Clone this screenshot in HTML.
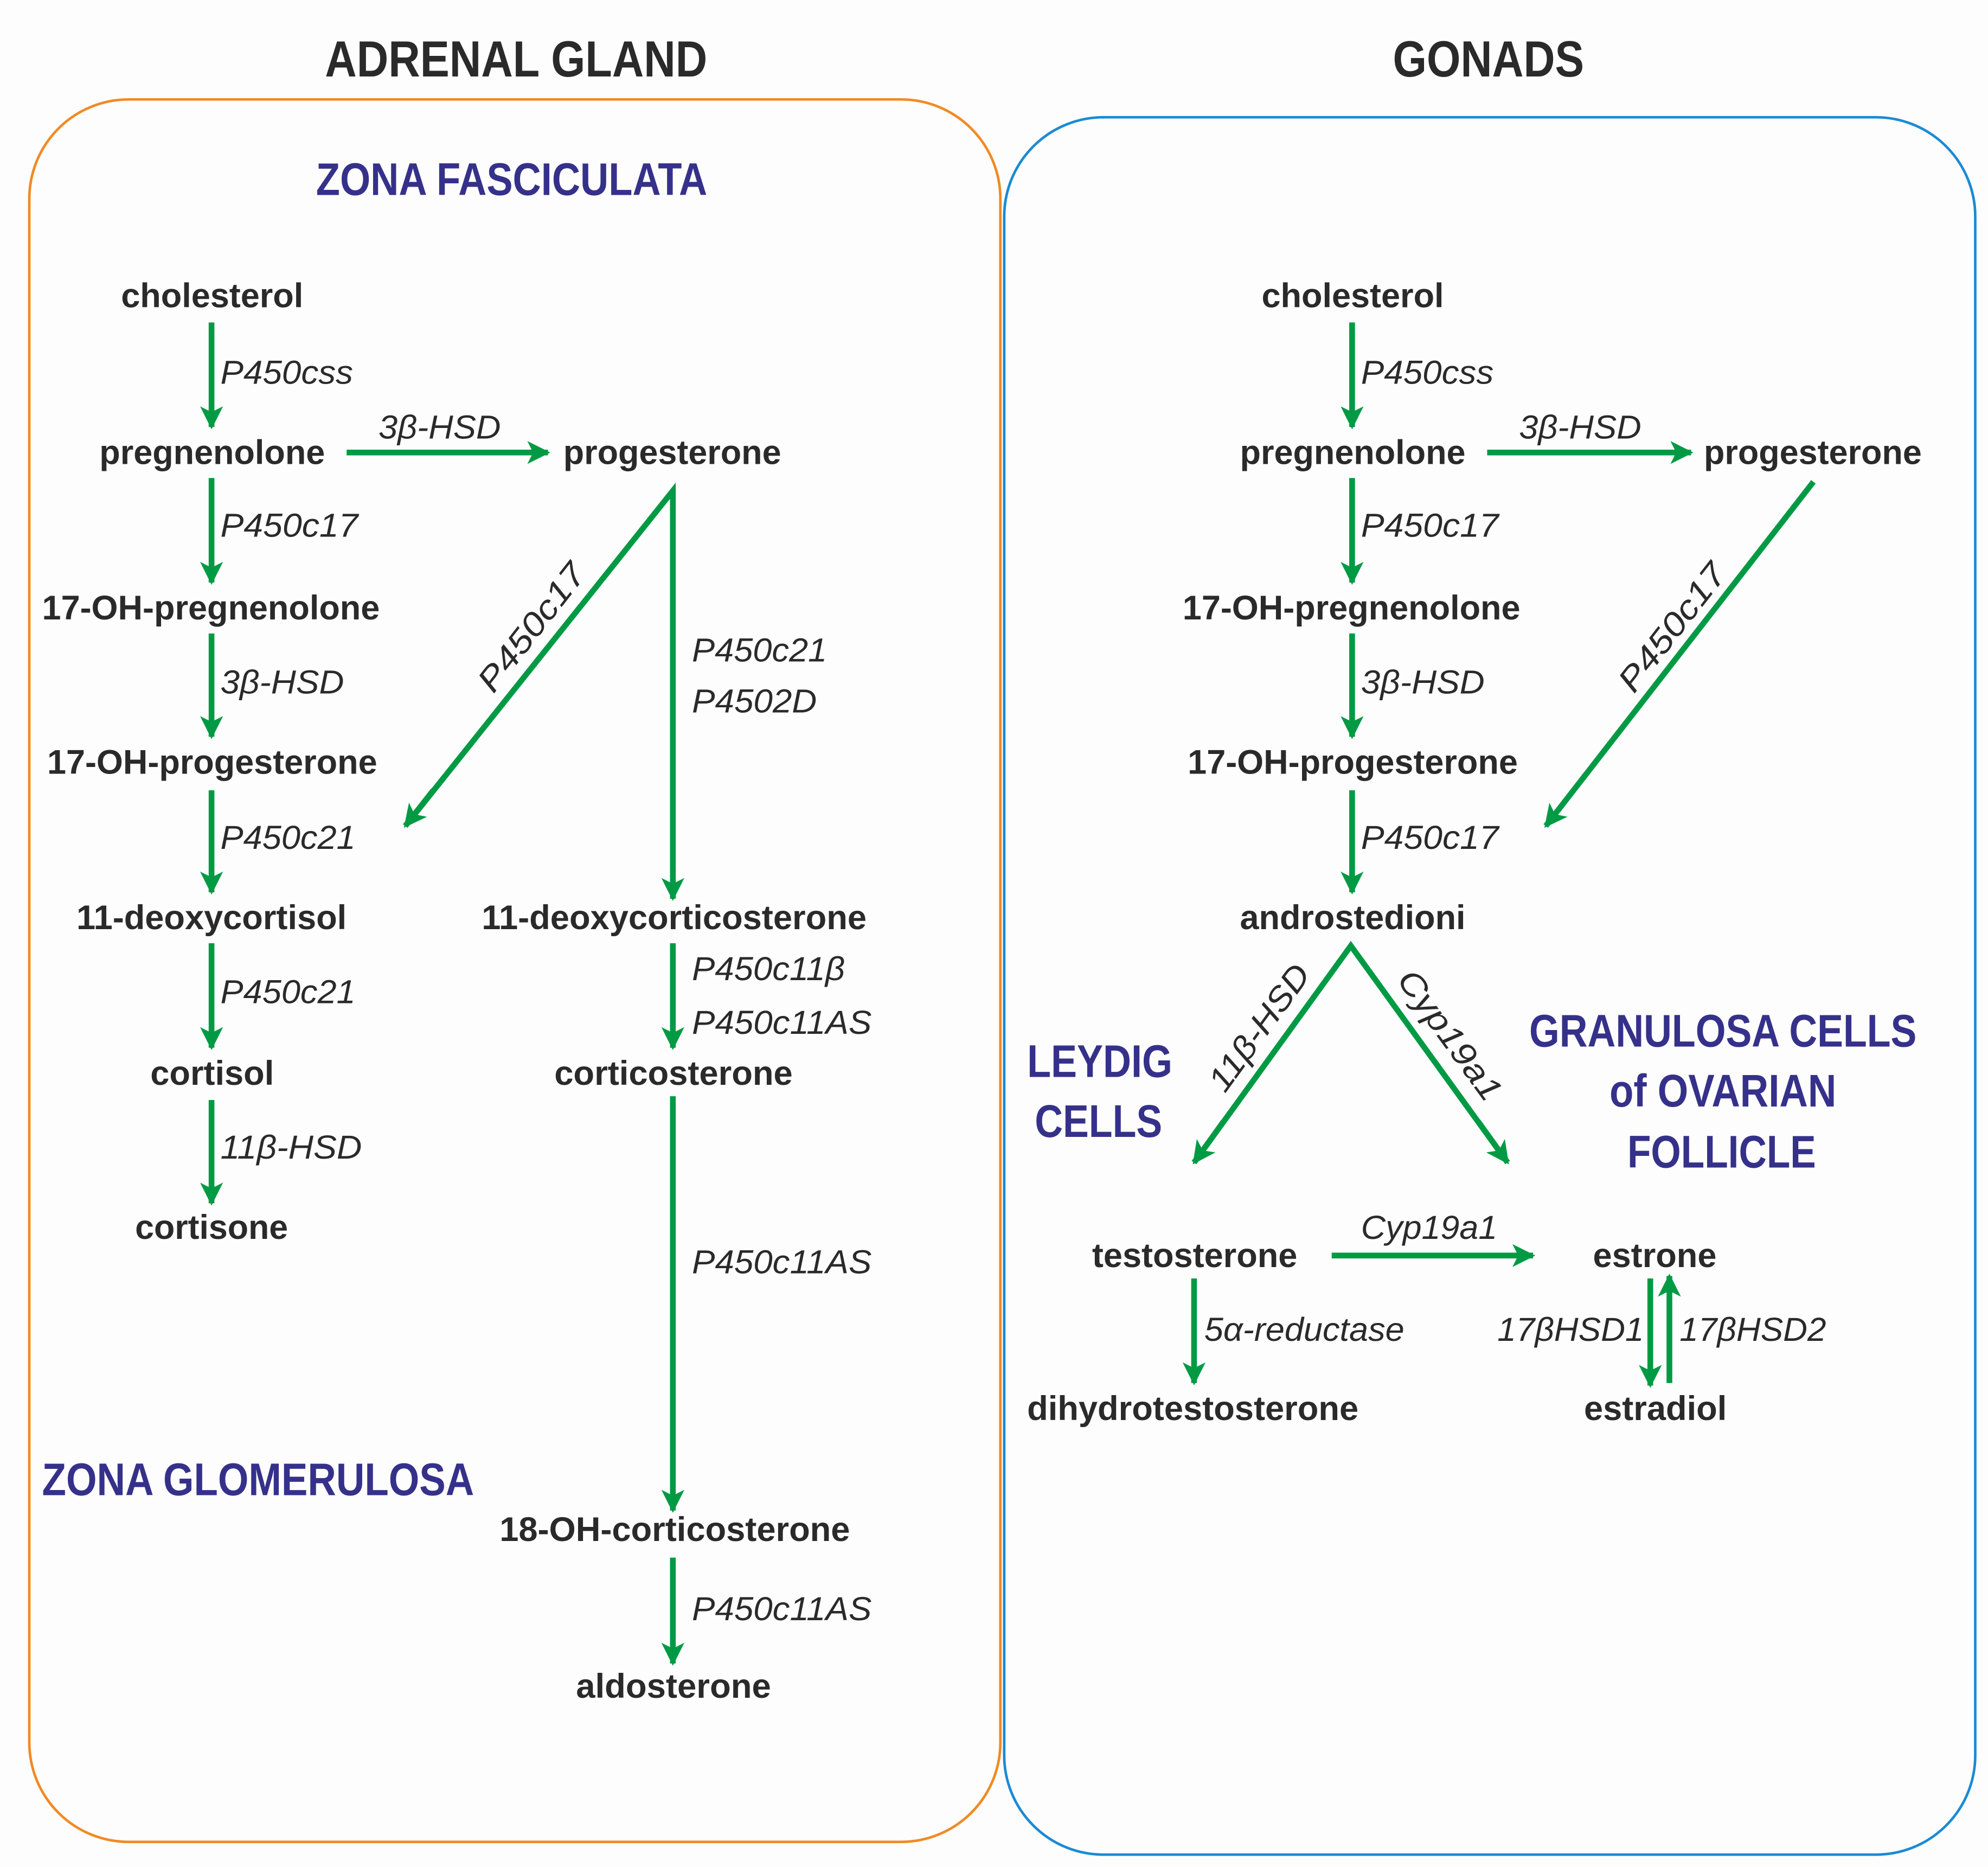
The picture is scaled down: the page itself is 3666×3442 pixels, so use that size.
<!DOCTYPE html>
<html><head><meta charset="utf-8"><style>
html,body{margin:0;padding:0;background:#fdfdfd;}
svg{display:block;}
text{font-family:"Liberation Sans",sans-serif;}
.m{font-weight:bold;font-size:27px;fill:#2a2a2a;}
.e{font-style:italic;font-size:26px;fill:#2a2a2a;}
.h{font-weight:bold;font-size:40px;fill:#2a2a2a;}
.z{font-weight:bold;font-size:36px;fill:#35318a;}
.a{stroke:#009a44;stroke-width:4.5;fill:none;marker-end:url(#ah);}
</style></head><body>
<svg width="3666" height="3442" viewBox="0 0 1560 1464.7" preserveAspectRatio="none" xmlns="http://www.w3.org/2000/svg">
<defs><marker id="ah" viewBox="0 0 10 10" refX="9" refY="5" markerWidth="4.2" markerHeight="4" orient="auto" markerUnits="strokeWidth"><path d="M0,0 L10,5 L0,10 L2.5,5 z" fill="#009a44"/></marker></defs>
<rect x="0" y="0" width="1560" height="1465" fill="#fdfdfd"/>
<rect x="23" y="78" width="762" height="1367" rx="78" fill="none" stroke="#f08a24" stroke-width="2"/>
<rect x="788" y="92" width="762" height="1363" rx="78" fill="none" stroke="#1a8ad4" stroke-width="2"/>

<text class="h" x="255" y="60" textLength="300" lengthAdjust="spacingAndGlyphs">ADRENAL GLAND</text>
<text class="h" x="1093" y="60" textLength="150" lengthAdjust="spacingAndGlyphs">GONADS</text>
<text class="z" x="248" y="153" textLength="307" lengthAdjust="spacingAndGlyphs">ZONA FASCICULATA</text>
<text class="z" x="33" y="1173" textLength="339" lengthAdjust="spacingAndGlyphs">ZONA GLOMERULOSA</text>
<text class="z" x="806" y="845" textLength="114" lengthAdjust="spacingAndGlyphs">LEYDIG</text>
<text class="z" x="812" y="892" textLength="100" lengthAdjust="spacingAndGlyphs">CELLS</text>
<text class="z" x="1200" y="821" textLength="304" lengthAdjust="spacingAndGlyphs">GRANULOSA CELLS</text>
<text class="z" x="1263" y="868" textLength="178" lengthAdjust="spacingAndGlyphs">of OVARIAN</text>
<text class="z" x="1277" y="916" textLength="148" lengthAdjust="spacingAndGlyphs">FOLLICLE</text>

<!-- left molecules -->
<text class="m" x="95" y="241" textLength="143" lengthAdjust="spacingAndGlyphs">cholesterol</text>
<text class="m" x="78" y="364" textLength="177" lengthAdjust="spacingAndGlyphs">pregnenolone</text>
<text class="m" x="442" y="364" textLength="171" lengthAdjust="spacingAndGlyphs">progesterone</text>
<text class="m" x="33" y="486" textLength="265" lengthAdjust="spacingAndGlyphs">17-OH-pregnenolone</text>
<text class="m" x="37" y="607" textLength="259" lengthAdjust="spacingAndGlyphs">17-OH-progesterone</text>
<text class="m" x="60" y="729" textLength="212" lengthAdjust="spacingAndGlyphs">11-deoxycortisol</text>
<text class="m" x="378" y="729" textLength="302" lengthAdjust="spacingAndGlyphs">11-deoxycorticosterone</text>
<text class="m" x="118" y="851" textLength="97" lengthAdjust="spacingAndGlyphs">cortisol</text>
<text class="m" x="435" y="851" textLength="187" lengthAdjust="spacingAndGlyphs">corticosterone</text>
<text class="m" x="106" y="972" textLength="120" lengthAdjust="spacingAndGlyphs">cortisone</text>
<text class="m" x="392" y="1209" textLength="275" lengthAdjust="spacingAndGlyphs">18-OH-corticosterone</text>
<text class="m" x="452" y="1332" textLength="153" lengthAdjust="spacingAndGlyphs">aldosterone</text>

<!-- left arrows -->
<line class="a" x1="166" y1="253" x2="166" y2="335"/>
<line class="a" x1="272" y1="355" x2="430" y2="355"/>
<line class="a" x1="166" y1="375" x2="166" y2="457"/>
<line class="a" x1="166" y1="497" x2="166" y2="578"/>
<line class="a" x1="166" y1="620" x2="166" y2="700"/>
<line class="a" x1="166" y1="740" x2="166" y2="822"/>
<line class="a" x1="166" y1="863" x2="166" y2="944"/>
<polyline points="318,648 528,385 528,705" fill="none" stroke="#009a44" stroke-width="4.5"/>
<line class="a" x1="340" y1="620" x2="318" y2="648"/>
<line class="a" x1="528" y1="680" x2="528" y2="705"/>
<line class="a" x1="528" y1="740" x2="528" y2="822"/>
<line class="a" x1="528" y1="860" x2="528" y2="1185"/>
<line class="a" x1="528" y1="1222" x2="528" y2="1305"/>

<!-- left enzymes -->
<text class="e" x="173" y="301" textLength="104" lengthAdjust="spacingAndGlyphs">P450css</text>
<text class="e" x="297" y="344" textLength="96" lengthAdjust="spacingAndGlyphs">3β-HSD</text>
<text class="e" x="173" y="421" textLength="108" lengthAdjust="spacingAndGlyphs">P450c17</text>
<text class="e" x="173" y="544" textLength="97" lengthAdjust="spacingAndGlyphs">3β-HSD</text>
<text class="e" x="173" y="666" textLength="106" lengthAdjust="spacingAndGlyphs">P450c21</text>
<text class="e" x="173" y="787" textLength="106" lengthAdjust="spacingAndGlyphs">P450c21</text>
<text class="e" x="173" y="909" textLength="111" lengthAdjust="spacingAndGlyphs">11β-HSD</text>
<text class="e" transform="translate(417,492) rotate(-52)" x="-60" y="9" textLength="120" lengthAdjust="spacingAndGlyphs">P450c17</text>
<text class="e" x="543" y="519" textLength="106" lengthAdjust="spacingAndGlyphs">P450c21</text>
<text class="e" x="543" y="559" textLength="98" lengthAdjust="spacingAndGlyphs">P4502D</text>
<text class="e" x="543" y="769" textLength="120" lengthAdjust="spacingAndGlyphs">P450c11β</text>
<text class="e" x="543" y="811" textLength="141" lengthAdjust="spacingAndGlyphs">P450c11AS</text>
<text class="e" x="543" y="999" textLength="141" lengthAdjust="spacingAndGlyphs">P450c11AS</text>
<text class="e" x="543" y="1271" textLength="141" lengthAdjust="spacingAndGlyphs">P450c11AS</text>

<!-- right molecules -->
<text class="m" x="990" y="241" textLength="143" lengthAdjust="spacingAndGlyphs">cholesterol</text>
<text class="m" x="973" y="364" textLength="177" lengthAdjust="spacingAndGlyphs">pregnenolone</text>
<text class="m" x="1337" y="364" textLength="171" lengthAdjust="spacingAndGlyphs">progesterone</text>
<text class="m" x="928" y="486" textLength="265" lengthAdjust="spacingAndGlyphs">17-OH-pregnenolone</text>
<text class="m" x="932" y="607" textLength="259" lengthAdjust="spacingAndGlyphs">17-OH-progesterone</text>
<text class="m" x="973" y="729" textLength="177" lengthAdjust="spacingAndGlyphs">androstedioni</text>
<text class="m" x="857" y="994" textLength="161" lengthAdjust="spacingAndGlyphs">testosterone</text>
<text class="m" x="1250" y="994" textLength="97" lengthAdjust="spacingAndGlyphs">estrone</text>
<text class="m" x="806" y="1114" textLength="260" lengthAdjust="spacingAndGlyphs">dihydrotestosterone</text>
<text class="m" x="1243" y="1114" textLength="112" lengthAdjust="spacingAndGlyphs">estradiol</text>

<!-- right arrows -->
<line class="a" x1="1061" y1="253" x2="1061" y2="335"/>
<line class="a" x1="1167" y1="355" x2="1327" y2="355"/>
<line class="a" x1="1061" y1="375" x2="1061" y2="457"/>
<line class="a" x1="1061" y1="497" x2="1061" y2="578"/>
<line class="a" x1="1061" y1="620" x2="1061" y2="700"/>
<line class="a" x1="1423" y1="378" x2="1213" y2="648"/>
<polyline points="937,912 1060,742 1183,912" fill="none" stroke="#009a44" stroke-width="4.5"/>
<line class="a" x1="960" y1="880" x2="937" y2="912"/>
<line class="a" x1="1160" y1="880" x2="1183" y2="912"/>
<line class="a" x1="1045" y1="985" x2="1203" y2="985"/>
<line class="a" x1="937" y1="1003" x2="937" y2="1085"/>
<line class="a" x1="1295" y1="1003" x2="1295" y2="1087"/>
<line class="a" x1="1310" y1="1085" x2="1310" y2="1001"/>

<!-- right enzymes -->
<text class="e" x="1068" y="301" textLength="104" lengthAdjust="spacingAndGlyphs">P450css</text>
<text class="e" x="1192" y="344" textLength="96" lengthAdjust="spacingAndGlyphs">3β-HSD</text>
<text class="e" x="1068" y="421" textLength="108" lengthAdjust="spacingAndGlyphs">P450c17</text>
<text class="e" x="1068" y="544" textLength="97" lengthAdjust="spacingAndGlyphs">3β-HSD</text>
<text class="e" x="1068" y="666" textLength="108" lengthAdjust="spacingAndGlyphs">P450c17</text>
<text class="e" transform="translate(1312,492) rotate(-52)" x="-60" y="9" textLength="120" lengthAdjust="spacingAndGlyphs">P450c17</text>
<text class="e" transform="translate(988,806) rotate(-54)" x="-58" y="9" textLength="116" lengthAdjust="spacingAndGlyphs">11β-HSD</text>
<text class="e" transform="translate(1138,812) rotate(54)" x="-60" y="9" textLength="120" lengthAdjust="spacingAndGlyphs">Cyp19a1</text>
<text class="e" x="1068" y="972" textLength="107" lengthAdjust="spacingAndGlyphs">Cyp19a1</text>
<text class="e" x="945" y="1052" textLength="157" lengthAdjust="spacingAndGlyphs">5α-reductase</text>
<text class="e" x="1175" y="1052" textLength="115" lengthAdjust="spacingAndGlyphs">17βHSD1</text>
<text class="e" x="1318" y="1052" textLength="115" lengthAdjust="spacingAndGlyphs">17βHSD2</text>
</svg>
</body></html>
